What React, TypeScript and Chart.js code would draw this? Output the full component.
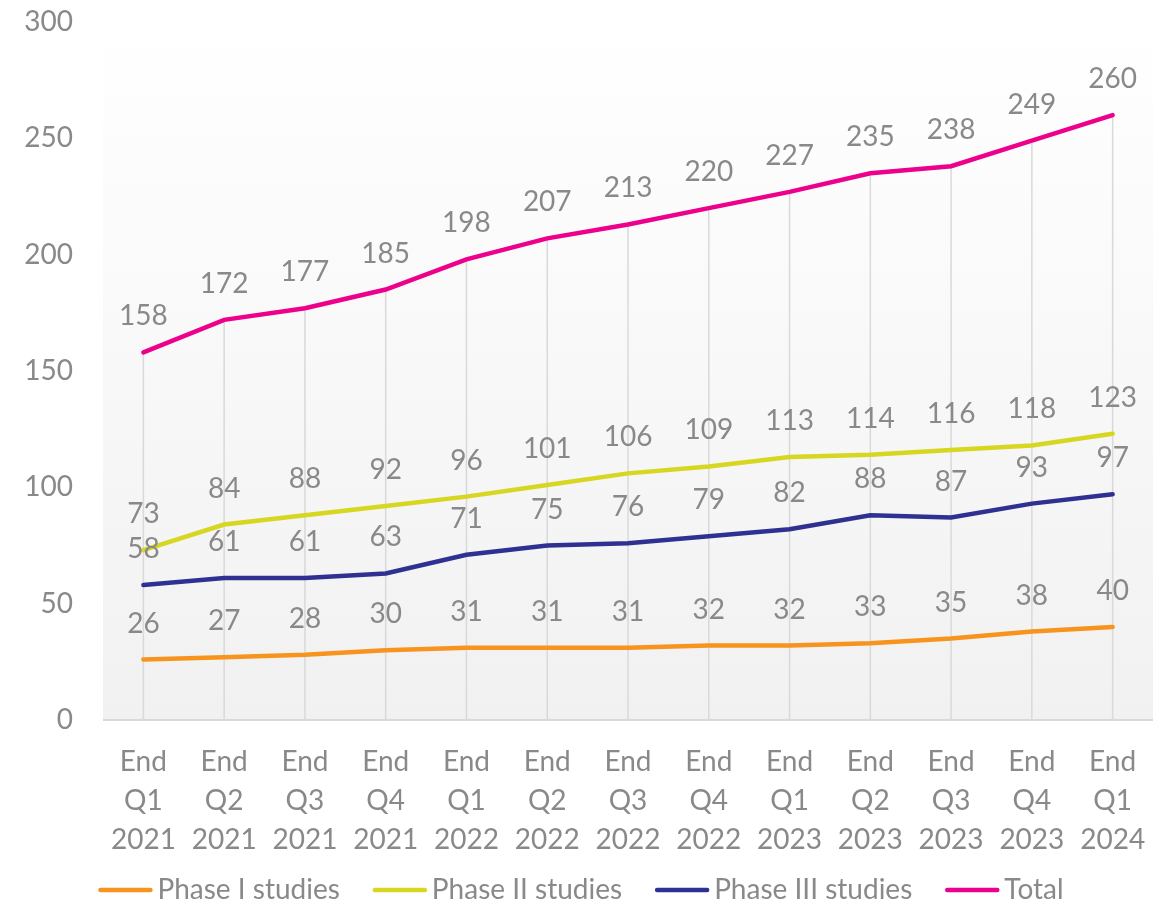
import React, { useEffect, useRef } from "react";
import { Chart, registerables } from "chart.js";

Chart.register(...registerables);

const categories: string[][] = [
  ["End", "Q1", "2021"], ["End", "Q2", "2021"], ["End", "Q3", "2021"], ["End", "Q4", "2021"],
  ["End", "Q1", "2022"], ["End", "Q2", "2022"], ["End", "Q3", "2022"], ["End", "Q4", "2022"],
  ["End", "Q1", "2023"], ["End", "Q2", "2023"], ["End", "Q3", "2023"], ["End", "Q4", "2023"],
  ["End", "Q1", "2024"],
];
const phase1 = [26, 27, 28, 30, 31, 31, 31, 32, 32, 33, 35, 38, 40];
const phase2 = [73, 84, 88, 92, 96, 101, 106, 109, 113, 114, 116, 118, 123];
const phase3 = [58, 61, 61, 63, 71, 75, 76, 79, 82, 88, 87, 93, 97];
const total = [158, 172, 177, 185, 198, 207, 213, 220, 227, 235, 238, 249, 260];
const seriesNames = ["Phase I studies", "Phase II studies", "Phase III studies", "Total"];
const seriesColors = ["#F7941D", "#D7D620", "#2E3192", "#EC008C"];
const yMin = 0;
const yMax = 300;
const yStep = 50;

const FONT = "Lato, 'Open Sans', sans-serif";
const FSIZE = 28;
const TEXT = "#898989";

const bgPlugin = {
  id: "bgGradient",
  beforeDraw(chart: any) {
    const { ctx, chartArea } = chart;
    if (!chartArea) return;
    const g = ctx.createLinearGradient(0, chartArea.top, 0, chartArea.bottom);
    g.addColorStop(0, "#ffffff");
    g.addColorStop(1, "#f1f1f1");
    ctx.save();
    ctx.fillStyle = g;
    ctx.fillRect(chartArea.left, chartArea.top, chartArea.right - chartArea.left, chartArea.bottom - chartArea.top);
    ctx.restore();
  },
};

const dropLinePlugin = {
  id: "dropLines",
  beforeDatasetsDraw(chart: any) {
    const { ctx, chartArea } = chart;
    const meta = chart.getDatasetMeta(3);
    ctx.save();
    ctx.strokeStyle = "#d9d9d9";
    ctx.lineWidth = 1.5;
    meta.data.forEach((p: any) => {
      ctx.beginPath();
      ctx.moveTo(p.x, p.y);
      ctx.lineTo(p.x, chartArea.bottom);
      ctx.stroke();
    });
    ctx.lineWidth = 2;
    ctx.beginPath();
    ctx.moveTo(chartArea.left, chartArea.bottom);
    ctx.lineTo(chartArea.right, chartArea.bottom);
    ctx.stroke();
    ctx.restore();
  },
};

const labelPlugin = {
  id: "dataLabels",
  afterDatasetsDraw(chart: any) {
    const { ctx } = chart;
    ctx.save();
    ctx.font = `${FSIZE}px ${FONT}`;
    ctx.fillStyle = TEXT;
    ctx.textAlign = "center";
    ctx.textBaseline = "middle";
    chart.data.datasets.forEach((ds: any, i: number) => {
      const meta = chart.getDatasetMeta(i);
      meta.data.forEach((p: any, j: number) => {
        ctx.fillText(String(ds.data[j]), p.x, p.y - 36);
      });
    });
    ctx.restore();
  },
};

const legendPlugin = {
  id: "customLegend",
  afterDraw(chart: any) {
    const { ctx } = chart;
    const lineW = 54;
    const gapText = 5;
    const gapItem = 33;
    ctx.save();
    ctx.font = `${FSIZE}px ${FONT}`;
    const widths = seriesNames.map((n) => lineW + gapText + ctx.measureText(n).width);
    const totalW = widths.reduce((a, b) => a + b, 0) + gapItem * (seriesNames.length - 1);
    let x = (chart.width - totalW) / 2 - 3;
    const y = 890;
    seriesNames.forEach((n, i) => {
      ctx.strokeStyle = seriesColors[i];
      ctx.lineWidth = 4.5;
      ctx.lineCap = "round";
      ctx.beginPath();
      ctx.moveTo(x + 2, y);
      ctx.lineTo(x + lineW - 2, y);
      ctx.stroke();
      ctx.fillStyle = TEXT;
      ctx.textAlign = "left";
      ctx.textBaseline = "middle";
      ctx.fillText(n, x + lineW + gapText, y);
      x += widths[i] + gapItem;
    });
    ctx.restore();
  },
};

export default function App() {
  const ref = useRef<HTMLCanvasElement | null>(null);
  useEffect(() => {
    if (!ref.current) return;
    const allSeries = [phase1, phase2, phase3, total];
    const chart = new Chart(ref.current, {
      type: "line",
      data: {
        labels: categories,
        datasets: allSeries.map((d, i) => ({
          label: seriesNames[i],
          data: d,
          borderColor: seriesColors[i],
          backgroundColor: seriesColors[i],
          borderWidth: 4.5,
          pointRadius: 0,
          tension: 0,
          fill: false,
          borderCapStyle: "round" as const,
        })),
      },
      options: {
        animation: false,
        responsive: true,
        maintainAspectRatio: false,
        layout: { padding: { left: 0, right: 10, top: 0, bottom: 0 } },
        plugins: { legend: { display: false }, tooltip: { enabled: false } },
        scales: {
          x: {
            offset: true,
            grid: { display: false, drawTicks: false, offset: false },
            border: { display: false },
            ticks: {
              color: TEXT,
              font: { family: FONT, size: FSIZE, lineHeight: 39 / FSIZE },
              padding: 22.5,
              maxRotation: 0,
              autoSkip: false,
            },
            afterFit(scale: any) {
              scale.height = 184;
            },
          },
          y: {
            min: yMin,
            max: yMax,
            grid: { display: false, drawTicks: false },
            border: { display: false },
            ticks: {
              stepSize: yStep,
              color: TEXT,
              font: { family: FONT, size: FSIZE },
              padding: 30,
            },
            afterFit(scale: any) {
              scale.width = 103;
              scale.paddingTop = 22;
              scale.paddingBottom = 0;
            },
          },
        },
      },
      plugins: [bgPlugin, dropLinePlugin, labelPlugin, legendPlugin],
    });
    return () => chart.destroy();
  }, []);
  return (
    <div style={{ position: "fixed", left: 0, top: 0, width: 1168, height: 904, background: "#fff" }}>
      <canvas ref={ref} />
    </div>
  );
}
